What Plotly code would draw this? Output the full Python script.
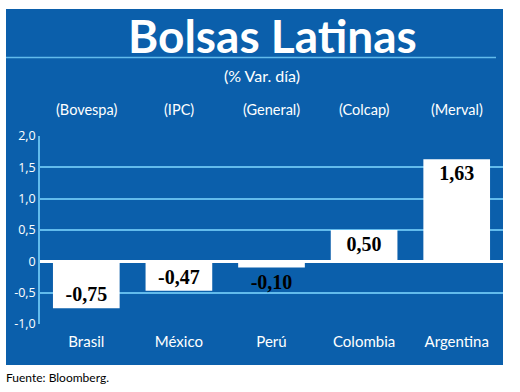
import plotly.graph_objects as go

paises = ["Brasil", "México", "Perú", "Colombia", "Argentina"]
indices = ["(Bovespa)", "(IPC)", "(General)", "(Colcap)", "(Merval)"]
variacion = [-0.75, -0.47, -0.10, 0.50, 1.63]
etiquetas = ["-0,75", "-0,47", "-0,10", "0,50", "1,63"]
ytick_vals = [2.0, 1.5, 1.0, 0.5, 0, -0.5, -1.0]
ytick_text = ["2,0", "1,5", "1,0", "0,5", "0", "-0,5", "-1,0"]

BLUE = "#0b5fab"
LIGHT = "#62bbec"
W, H = 520, 392
L, R, T, B = 40, 17, 136, 68
pw, ph = W - L - R, H - T - B

def px(x):
    return (x - L) / pw

def py(y):
    return (H - B - y) / ph

positions = ["inside" if abs(v) > 0.2 else "outside" for v in variacion]

fig = go.Figure(go.Bar(
    x=paises, y=variacion, text=etiquetas, textposition=positions,
    insidetextanchor="end", cliponaxis=False,
    textfont=dict(family="Liberation Serif", size=20, color="black", weight="bold"),
    marker=dict(color="white", line=dict(width=0)),
    hoverinfo="skip",
))

shapes = [
    dict(type="rect", xref="paper", yref="paper", x0=px(6), x1=px(503), y0=py(365), y1=py(9),
         fillcolor=BLUE, line=dict(width=0), layer="below"),
    dict(type="line", xref="paper", yref="paper", x0=px(6), x1=px(496), y0=py(57.5), y1=py(57.5),
         line=dict(color=LIGHT, width=1.5)),
]

annotations = [
    dict(text="<b>Bolsas Latinas</b>", xref="paper", yref="paper", x=px(272), y=py(35),
         showarrow=False, font=dict(family="Lato", size=46, color="white"), yanchor="middle"),
    dict(text="(% Var. día)", xref="paper", yref="paper", x=px(262), y=py(75),
         showarrow=False, font=dict(family="Lato", size=16, color="white"), yanchor="middle"),
    dict(text="Fuente: Bloomberg.", xref="paper", yref="paper", x=px(4), y=py(377),
         xanchor="left", showarrow=False, font=dict(family="Lato", size=12, color="black"), yanchor="middle"),
]
for p, idx in zip(paises, indices):
    annotations.append(dict(text=idx, x=p, xref="x", yref="paper", y=py(109), showarrow=False,
                            font=dict(family="Lato", size=14.5, color="white"), yanchor="middle"))

fig.update_layout(
    width=W, height=H, margin=dict(l=L, r=R, t=T, b=B),
    paper_bgcolor="white", plot_bgcolor="rgba(0,0,0,0)",
    bargap=0.28, showlegend=False,
    shapes=shapes, annotations=annotations,
    xaxis=dict(tickfont=dict(family="Lato", size=15, color="white"),
               showgrid=False, ticks="", showline=False, fixedrange=True,
               ticklabelstandoff=7),
    yaxis=dict(range=[-1, 2], tickvals=ytick_vals, ticktext=ytick_text,
               tickfont=dict(family="Open Sans", size=12.5, color="white"),
               showgrid=True, gridcolor=LIGHT, gridwidth=1.5,
               zeroline=True, zerolinecolor="white", zerolinewidth=2.5,
               showline=True, linecolor=LIGHT, linewidth=1.5, ticks="", ticklen=0,
               fixedrange=True),
)

fig.write_html("out.html", config={"displayModeBar": False},
               post_script="document.body.style.margin='0';document.body.style.padding='0';")
